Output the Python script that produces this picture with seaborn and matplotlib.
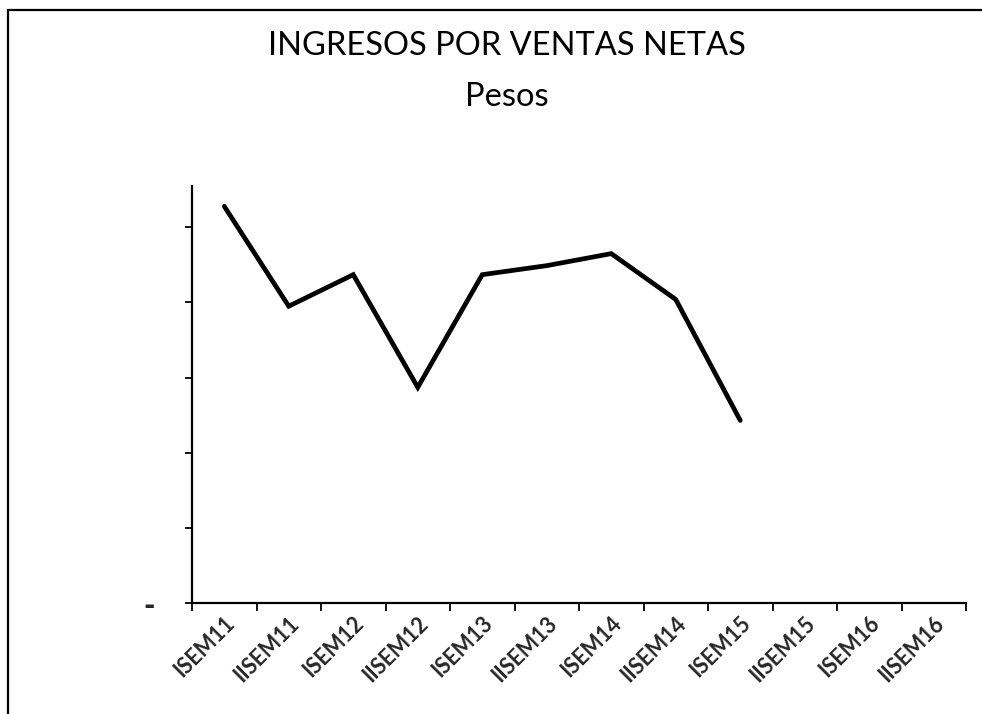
import matplotlib
matplotlib.use("Agg")
import matplotlib.pyplot as plt
from matplotlib.patches import Rectangle
import seaborn as sns
import pandas as pd
import numpy as np

categories = ["ISEM11", "IISEM11", "ISEM12", "IISEM12", "ISEM13", "IISEM13",
              "ISEM14", "IISEM14", "ISEM15", "IISEM15", "ISEM16", "IISEM16"]
values = [5.28, 3.95, 4.37, 2.87, 4.37, 4.49, 4.65, 4.04, 2.43]
ytick_values = [0, 1, 2, 3, 4, 5]
ytick_labels = ["-", "", "", "", "", ""]
title_line1 = "INGRESOS POR VENTAS NETAS"
title_line2 = "Pesos"

sns.set_theme(style="white")
plt.rcParams["font.family"] = ["Lato", "DejaVu Sans"]

df = pd.DataFrame({"pos": np.arange(len(values)), "valor": values})

fig = plt.figure(figsize=(9.82, 7.14), dpi=100)
ax = fig.add_axes([192 / 982, 111 / 714, 774 / 982, 417 / 714])

sns.lineplot(data=df, x="pos", y="valor", ax=ax, color="black", linewidth=3.4,
             solid_joinstyle="miter")

ax.set_xlim(-0.5, len(categories) - 0.5)
ax.set_ylim(0, 5.55)
ax.set_xticks(np.arange(len(categories)))
ax.set_xticklabels(categories, rotation=45, ha="right", rotation_mode="anchor",
                   fontsize=15.5, fontweight="bold")
ax.set_xticks(np.arange(len(categories) + 1) - 0.5, minor=True)
ax.tick_params(axis="x", which="major", length=0, pad=7)
ax.tick_params(axis="x", which="minor", length=6, width=1.3, color="black",
               direction="out", bottom=True)
ax.set_yticks(ytick_values)
ax.set_yticklabels(ytick_labels, fontsize=22, fontweight="heavy")
ax.tick_params(axis="y", length=5, width=1.3, color="black", direction="out",
               left=True, pad=22)
ax.set_xlabel("")
ax.set_ylabel("")

for side in ["top", "right"]:
    ax.spines[side].set_visible(False)
for side in ["left", "bottom"]:
    ax.spines[side].set_color("black")
    ax.spines[side].set_linewidth(1.6)

fig.text(507 / 982, 1 - 46 / 714, title_line1, ha="center", va="center",
         fontsize=23.5, color="black")
fig.text(507 / 982, 1 - 97 / 714, title_line2, ha="center", va="center",
         fontsize=23.5, color="black")

frame = Rectangle((8 / 982, -0.1), 1.2, (714 - 10) / 714 + 0.1,
                  transform=fig.transFigure, fill=False, edgecolor="black",
                  linewidth=1.6)
fig.patches.append(frame)

fig.savefig("out.png", dpi=100)
